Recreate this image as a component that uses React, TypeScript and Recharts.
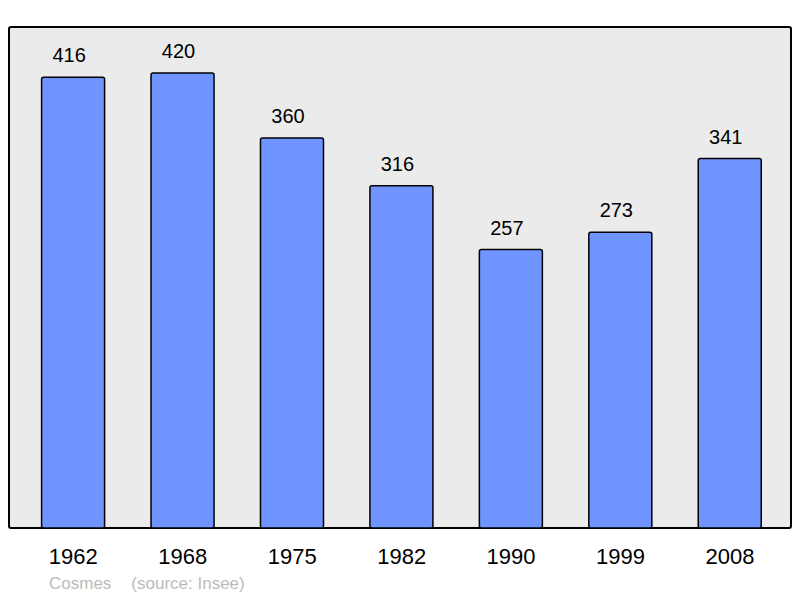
import { BarChart, Bar, XAxis, YAxis, LabelList } from 'recharts';

const years = ['1962', '1968', '1975', '1982', '1990', '1999', '2008'];
const population = [416, 420, 360, 316, 257, 273, 341];
const author = 'Cosmes';
const source = '(source: Insee)';

const data = years.map((year, i) => ({ year, value: population[i] }));

const FONT = '"Liberation Sans", Arial, sans-serif';

export default function App() {
  return (
    <div style={{ position: 'absolute', left: 0, top: 0, width: 800, height: 598, background: '#fff', fontFamily: FONT }}>
      {/* frame + grey plot background behind the svg */}
      <div
        style={{
          position: 'absolute',
          left: 8,
          top: 26,
          width: 784,
          height: 503,
          boxSizing: 'border-box',
          border: '2px solid #000',
          borderRadius: 3,
          background: '#ebebeb',
        }}
      />
      <div style={{ position: 'absolute', left: 0, top: 0 }}>
        <BarChart
          width={800}
          height={598}
          data={data}
          margin={{ top: 27, right: 15.3, bottom: 40, left: 18.6 }}
          barCategoryGap={0}
        >
          <YAxis hide domain={[0, 462.5]} />
          <XAxis
            dataKey="year"
            axisLine={false}
            tickLine={false}
            tickSize={0}
            tickMargin={20}
            tick={{ fill: '#000', fontSize: 22, fontFamily: FONT }}
          />
          <Bar
            dataKey="value"
            fill="#7094ff"
            stroke="#000"
            strokeWidth={1.5}
            barSize={63}
            radius={2}
            isAnimationActive={false}
          >
            <LabelList
              dataKey="value"
              position="top"
              offset={15}
              dx={-4}
              style={{ fill: '#000', fontSize: 20, fontFamily: FONT }}
            />
          </Bar>
        </BarChart>
      </div>
      <div
        style={{
          position: 'absolute',
          left: 49,
          top: 574,
          fontSize: 17,
          color: '#bbbbbb',
          whiteSpace: 'pre',
        }}
      >
        {author}
        <span style={{ marginLeft: 20 }}>{source}</span>
      </div>
    </div>
  );
}
